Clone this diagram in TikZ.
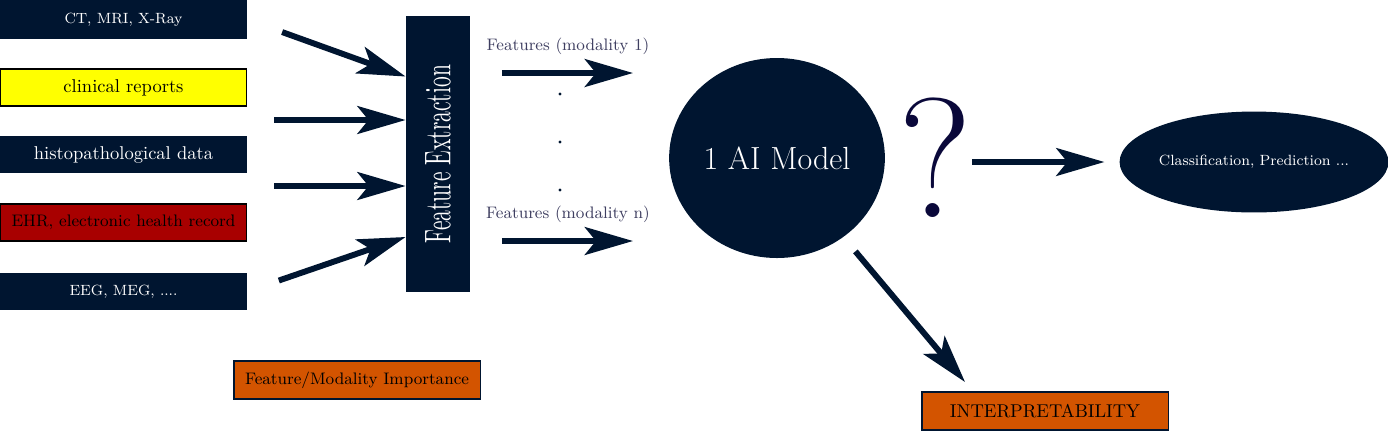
\documentclass[tikz,border=0pt]{standalone}
\usepackage{xcolor}
\usepackage{tikz}
\usetikzlibrary{
  arrows.meta,
  calc,
  positioning,
  shapes.geometric
}
\definecolor{deepnavy}{RGB}{0,21,48}
\definecolor{qnavy}{RGB}{10,8,58}
\definecolor{hiyellow}{RGB}{255,255,0}
\definecolor{ehrred}{RGB}{168,0,0}
\definecolor{burnt}{RGB}{211,84,0}
\definecolor{featgray}{RGB}{62,62,96}
\tikzset{
  srcbox/.style={
    fill=#1,
    minimum width=133pt,
    minimum height=20pt,
    inner sep=2pt,
    line width=0.7pt,
    align=center
  },
  markbox/.style={
    draw=deepnavy,
    fill=burnt,
    line width=0.7pt,
    minimum width=133pt,
    minimum height=20.5pt,
    align=center
  },
  blob/.style={
    ellipse,
    fill=deepnavy,
    text=white,
    inner sep=0pt
  },
  bigarrow/.style={
    -{Stealth[length=26pt, width=15pt, inset=6pt]},
    line width=3.2pt,
    draw=deepnavy
  },
  flabel/.style={
    font=\small,
    text=featgray
  }
}

\begin{document}
\begin{tikzpicture}[x=0.54pt, y=-0.54pt, node distance=15.5pt]
  \useasboundingbox (0,0) rectangle (1388,432);

  \node[srcbox=deepnavy, text=white, font=\footnotesize, minimum height=21pt] (ct) at (123.5,19.5) {CT, MRI, X-Ray};
  \node[srcbox=hiyellow, draw=black, below=of ct] (clin) {clinical reports};
  \node[srcbox=deepnavy, text=white, below=of clin] (histo) {histopathological data};
  \node[srcbox=ehrred, draw=black, font=\small, below=16pt of histo] (ehr) {EHR, electronic health record};
  \node[srcbox=deepnavy, text=white, font=\footnotesize, below=16.5pt of ehr] (eeg) {EEG, MEG, ....};

  \node[fill=deepnavy, text=white, minimum width=34.6pt, minimum height=149pt, inner sep=0pt] (fe) at (438,154) {
    \rotatebox{90}{\scalebox{1.16}[2]{Feature Extraction}}
  };

  \coordinate (t2) at (274,120);
  \coordinate (t3) at (274,186);
  \draw[bigarrow, shorten <=20pt] (ct.east) -- ($(fe.north west)!.22!(fe.south west)$);
  \draw[bigarrow] (t2) -- (fe.west |- t2);
  \draw[bigarrow] (t3) -- (fe.west |- t3);
  \draw[bigarrow, shorten <=18pt] (eeg.east) -- ($(fe.north west)!.8!(fe.south west)$);

  \coordinate (m1) at (633,73);
  \coordinate (mn) at (633,241);
  \draw[bigarrow, shorten <=17pt] (fe.east |- m1) -- node[flabel, pos=.6, above=5pt] {Features (modality 1)} (m1);
  \draw[bigarrow, shorten <=17pt] (fe.east |- mn) -- node[flabel, pos=.6, above=5pt] {Features (modality n)} (mn);
  \foreach \y in {94,142,190}
    \fill[deepnavy] (560,\y) circle (0.9pt);

  \node[blob, font=\LARGE, minimum width=116.5pt, minimum height=108pt] (ai) at (777,158) {1 AI Model};
  \node[text=qnavy, font=\fontsize{92}{92}\selectfont, inner sep=0pt] (q) at (935,158) {?};
  \node[blob, font=\footnotesize, minimum width=143pt, minimum height=54.5pt] (cls) at (1254,162) {Classification, Prediction ...};
  \draw[bigarrow, shorten >=8pt] (q.east |- cls.west) -- (cls.west);

  \node[markbox, font=\small] (imp) at (357,380) {Feature/Modality Importance};
  \node[markbox] (interp) at (1045,411) {INTERPRETABILITY};
  \coordinate (itip) at (965,382);
  \draw[bigarrow, shorten <=10pt] (ai) -- (itip);
\end{tikzpicture}
\end{document}
